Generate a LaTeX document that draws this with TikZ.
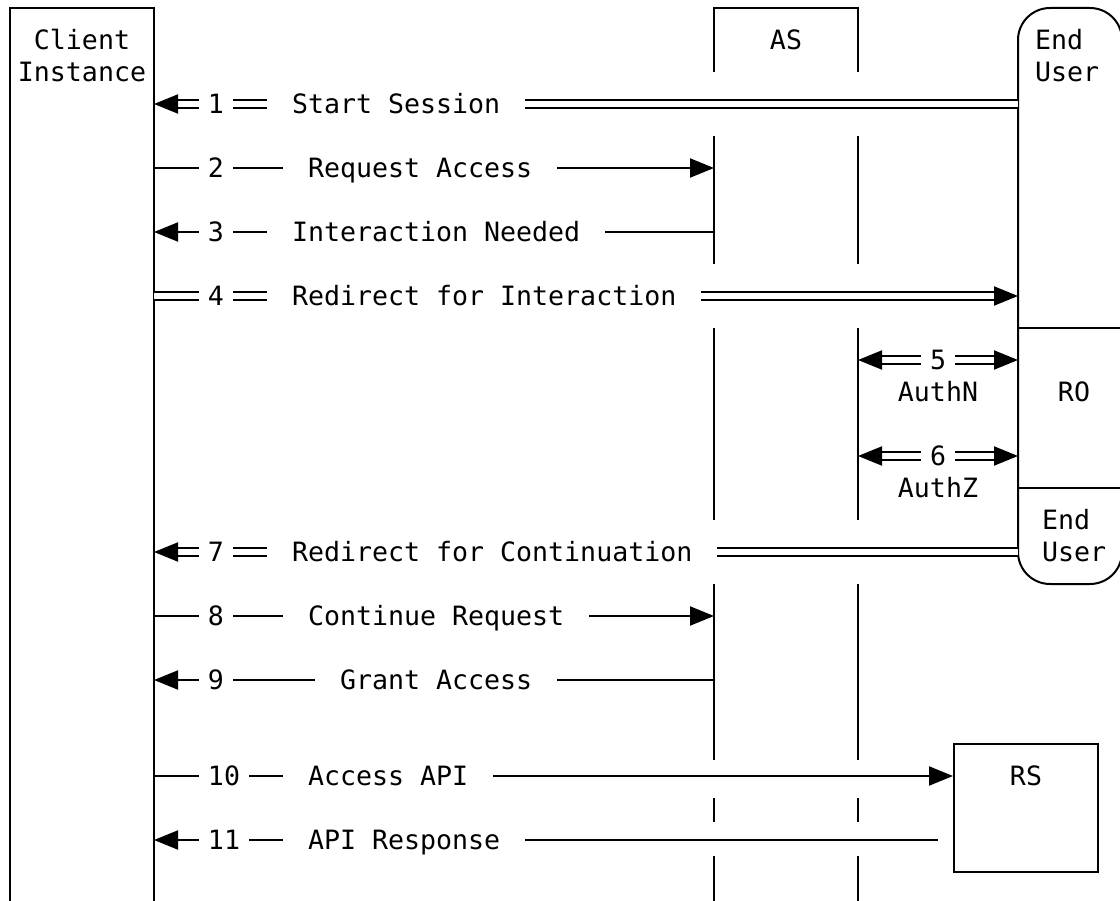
\documentclass[tikz,border=0pt]{standalone}
\usepackage{fontspec}
\setmonofont{DejaVu Sans Mono}
\usetikzlibrary{arrows.meta,positioning}
\tikzset{
  txt/.style={inner sep=0pt, text height=19pt, text depth=0pt},
  num/.style={txt, inner xsep=8pt},
  msg/.style={txt, inner xsep=24pt},
  dbl/.style={double, double distance=6pt},
}
\begin{document}
\begin{tikzpicture}[x=1pt, y=-1pt, line width=2pt, >={Triangle[length=24pt,width=19pt]}, font=\ttfamily\fontsize{26.6}{32}\selectfont]
\useasboundingbox (0,0) rectangle (1120,901);
\draw (10,905) |- (154,8) -- (154,905);
\node[txt] (client) at (82,40) {Client};
\node[txt] (instance) at (82,72) {Instance};
\draw (714,72) |- (858,8) -- (858,72);
\node[txt] (as) at (786,40) {AS};
\foreach \a/\b in {136/264,328/520,584/760,798/822,856/905}
 {\draw (714,\a) -- (714,\b);
  \draw (858,\a) -- (858,\b);}
\draw[rounded corners=32pt] (1018,8) rectangle (1122,584);
\draw (1018,328) -- (1122,328);
\draw (1018,488) -- (1122,488);
\node[txt, anchor=west] (end1) at (1034,40) {End};
\node[txt, anchor=west] (user1) at (1034,72) {User};
\node[txt] (ro) at (1074,392) {RO};
\node[txt, anchor=west] (end2) at (1041,520) {End};
\node[txt, anchor=west] (user2) at (1041,552) {User};
\node[draw, minimum width=144pt, minimum height=128pt, inner sep=0pt] (rs) at (1026,808) {};
\node[txt] (rslbl) at (1026,776) {RS};
\foreach \r/\y in {1/104,2/168,3/232,4/296,5/360,6/456,7/552,8/616,9/680,10/776,11/840}
 {\coordinate (ci\r) at (154,\y);
  \coordinate (as\r) at (714,\y);
  \coordinate (ar\r) at (858,\y);
  \coordinate (eu\r) at (1018,\y);}
\coordinate (rs11) at (938,840);

\node[num] (n1) at (216,104) {1};
\node[msg, right=34pt of n1] (m1) {Start Session};
\draw[dbl,<-] (ci1) -- (n1);
\draw[dbl] (n1) -- (m1);
\draw[dbl] (m1) -- (eu1);

\node[num] (n2) at (216,168) {2};
\node[msg, right=50pt of n2] (m2) {Request Access};
\draw (ci2) -- (n2);
\draw (n2) -- (m2);
\draw[->] (m2) -- (as2);

\node[num] (n3) at (216,232) {3};
\node[msg, right=34pt of n3] (m3) {Interaction Needed};
\draw[<-] (ci3) -- (n3);
\draw (n3) -- (m3);
\draw (m3) -- (as3);

\node[num] (n4) at (216,296) {4};
\node[msg, right=34pt of n4] (m4) {Redirect for Interaction};
\draw[dbl] (ci4) -- (n4);
\draw[dbl] (n4) -- (m4);
\draw[dbl,->] (m4) -- (eu4);

\node[num] (n5) at (938,360) {5};
\node[txt] (authn) at (938,392) {AuthN};
\draw[dbl,<-] (ar5) -- (n5);
\draw[dbl,->] (n5) -- (eu5);

\node[num] (n6) at (938,456) {6};
\node[txt] (authz) at (938,488) {AuthZ};
\draw[dbl,<-] (ar6) -- (n6);
\draw[dbl,->] (n6) -- (eu6);

\node[num] (n7) at (216,552) {7};
\node[msg, right=34pt of n7] (m7) {Redirect for Continuation};
\draw[dbl,<-] (ci7) -- (n7);
\draw[dbl] (n7) -- (m7);
\draw[dbl] (m7) -- (eu7);

\node[num] (n8) at (216,616) {8};
\node[msg, right=50pt of n8] (m8) {Continue Request};
\draw (ci8) -- (n8);
\draw (n8) -- (m8);
\draw[->] (m8) -- (as8);

\node[num] (n9) at (216,680) {9};
\node[msg, right=82pt of n9] (m9) {Grant Access};
\draw[<-] (ci9) -- (n9);
\draw (n9) -- (m9);
\draw (m9) -- (as9);

\node[num] (n10) at (224,776) {10};
\node[msg, right=34pt of n10] (m10) {Access API};
\draw (ci10) -- (n10);
\draw (n10) -- (m10);
\draw[->] (m10) -- (m10 -| rs.west);

\node[num] (n11) at (224,840) {11};
\node[msg, right=34pt of n11] (m11) {API Response};
\draw[<-] (ci11) -- (n11);
\draw (n11) -- (m11);
\draw (m11) -- (rs11);
\end{tikzpicture}
\end{document}
